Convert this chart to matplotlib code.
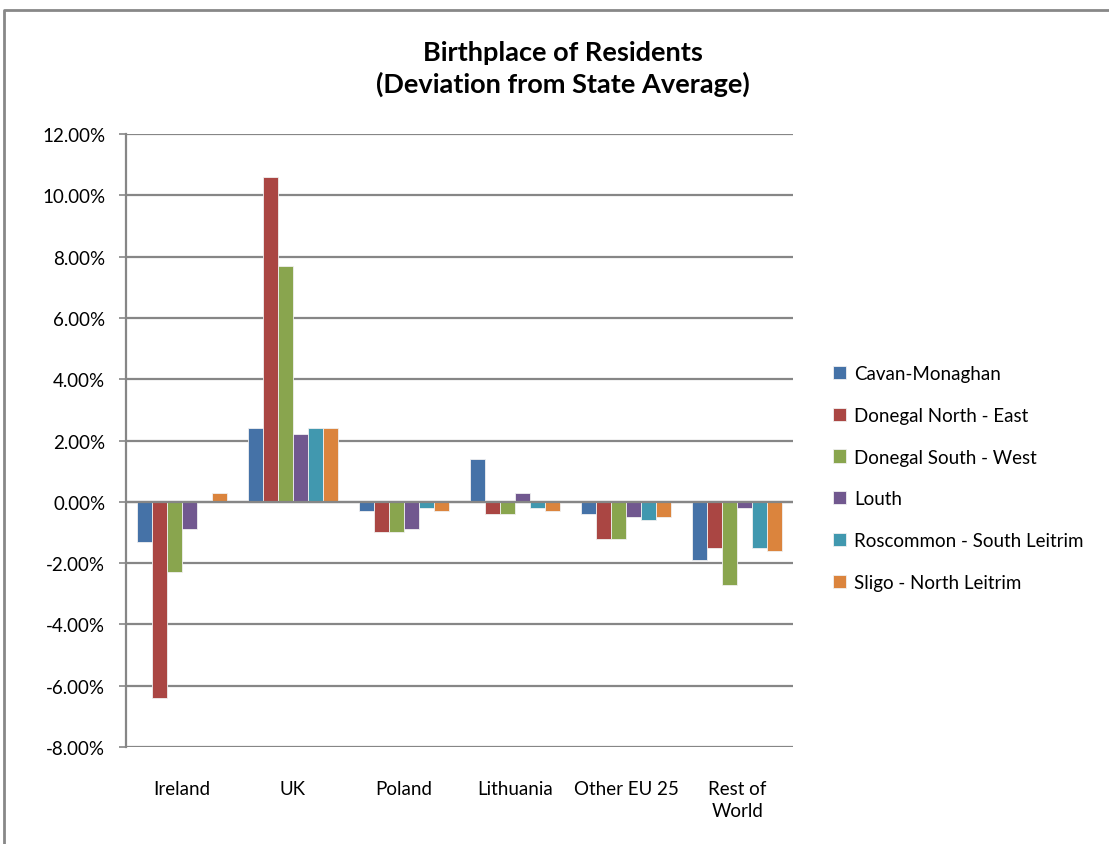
import numpy as np
import matplotlib
matplotlib.use("Agg")
import matplotlib.pyplot as plt
from matplotlib.lines import Line2D
from matplotlib.ticker import FuncFormatter

plt.rcParams['font.family'] = ['Lato', 'DejaVu Sans']

categories = ["Ireland", "UK", "Poland", "Lithuania", "Other EU 25", "Rest of\nWorld"]
regions = ["Cavan-Monaghan", "Donegal North - East", "Donegal South - West",
           "Louth", "Roscommon - South Leitrim", "Sligo - North Leitrim"]
cavan_monaghan = [-1.3, 2.4, -0.3, 1.4, -0.4, -1.9]
donegal_ne = [-6.4, 10.6, -1.0, -0.4, -1.2, -1.5]
donegal_sw = [-2.3, 7.7, -1.0, -0.4, -1.2, -2.7]
louth = [-0.9, 2.2, -0.9, 0.3, -0.5, -0.2]
roscommon_sl = [0.0, 2.4, -0.2, -0.2, -0.6, -1.5]
sligo_nl = [0.3, 2.4, -0.3, -0.3, -0.5, -1.6]
series = [cavan_monaghan, donegal_ne, donegal_sw, louth, roscommon_sl, sligo_nl]
colors = ["#4572A7", "#AA4643", "#89A54E", "#71588F", "#4198AF", "#DB843D"]

fig = plt.figure(figsize=(11.09, 8.45), dpi=100)
ax = fig.add_axes([0.1136, 0.1148, 0.6014, 0.7254])

x = np.arange(len(categories))
w = 0.135
for i, (vals, c, name) in enumerate(zip(series, colors, regions)):
    ax.bar(x + (i - 2.5) * w, vals, w, color=c, label=name,
           edgecolor="#f0f0f0", linewidth=0.6, zorder=3)

ax.set_xlim(-0.5, len(categories) - 0.5)
ax.set_ylim(-8, 12)
ax.set_yticks(np.arange(-8, 12.1, 2))
ax.yaxis.set_major_formatter(FuncFormatter(lambda v, p: f"{v:.2f}%"))
ax.grid(axis="y", color="#868686", linewidth=1.6, zorder=1)
ax.axhline(0, color="#868686", linewidth=1.6, zorder=4)
for s in ["top", "right", "bottom"]:
    ax.spines[s].set_visible(False)
ax.spines["left"].set_color("#868686")
ax.spines["left"].set_linewidth(1.6)
ax.tick_params(axis="y", length=5, color="#868686", width=1.2, labelsize=13.5, pad=10)
ax.set_xticks(x)
ax.set_xticklabels(categories, fontsize=13.5, linespacing=1.3)
ax.tick_params(axis="x", length=0, pad=24)

fig.text(0.508, 0.918, "Birthplace of Residents\n(Deviation from State Average)",
         ha="center", va="center", fontsize=19.5, fontweight="bold", linespacing=1.3)

leg = ax.legend(loc="center left", bbox_to_anchor=(1.035, 0.439), frameon=False,
                fontsize=13.5, handlelength=0.7, handleheight=0.7,
                handletextpad=0.4, labelspacing=1.32)

# chart frame
fig.add_artist(Line2D([0.004, 0.004, 1.0], [0.0, 0.987, 0.987], transform=fig.transFigure,
                      color="#888888", linewidth=2))

fig.savefig("out.png", dpi=100)
